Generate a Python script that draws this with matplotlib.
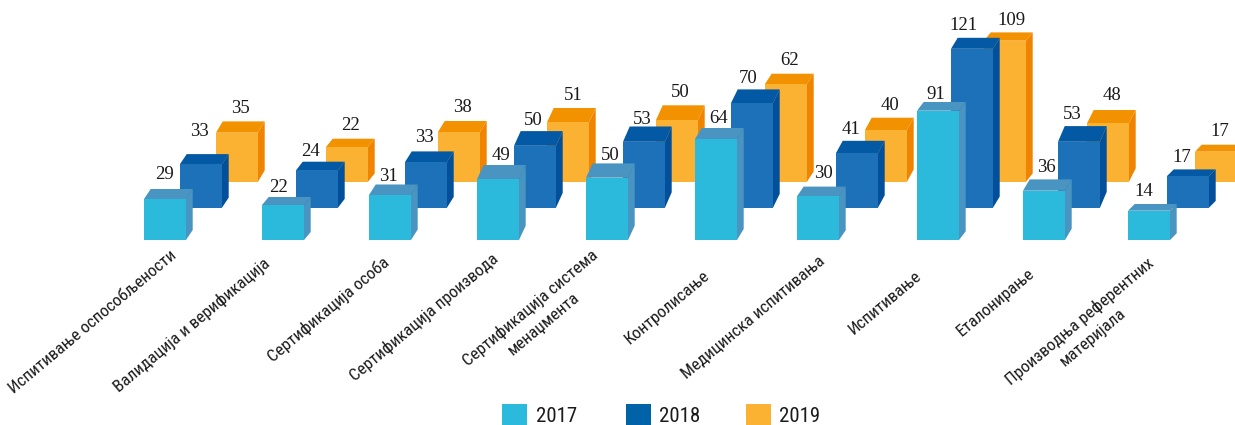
import numpy as np
import matplotlib
matplotlib.use('Agg')
import matplotlib.pyplot as plt
from matplotlib.patches import Polygon, Rectangle

categories = ['Испитивање оспособљености', 'Валидација и верификација', 'Сертификација особа',
              'Сертификација производа', 'Сертификација система\nменаџмента', 'Контролисање',
              'Медицинска испитивања', 'Испитивање', 'Еталонирање',
              'Производња референтних\nматеријала']
years = ['2017', '2018', '2019']

# printed values
values_2017 = [29, 22, 31, 49, 50, 64, 30, 91, 36, 14]
values_2018 = [33, 24, 33, 50, 53, 70, 41, 121, 53, 17]
values_2019 = [35, 22, 38, 51, 50, 62, 40, 109, 48, 17]

# drawn bar heights, the picture is not to scale with the printed values
height_2017 = [41, 35, 45, 60.7, 62.3, 101, 43.7, 129.3, 49.3, 29.3]
height_2018 = [43.5, 37.2, 45.5, 61.8, 65.8, 104.5, 54.5, 158.8, 65.8, 31.5]
height_2019 = [49, 34.7, 49.7, 59.4, 61.7, 97.7, 51.7, 141, 58.4, 30]

# layout in pixels
left_2017 = [144, 262, 369, 477, 586, 695, 797, 917, 1023, 1128]
left_2018 = [180, 296, 405, 514, 623, 731, 836, 951, 1058, 1167]
left_2019 = [216, 326, 438, 547, 656, 765, 865, 984, 1087, 1195]
depth_2017 = [10, 8, 10.5, 14.3, 14.3, 11, 9.7, 8.7, 11.3, 6.7]
depth_2018 = [10, 8.7, 10.7, 14.7, 15.3, 13.7, 12.3, 11, 15.7, 6.7]
depth_2019 = [11.3, 8.3, 11, 14.3, 14.7, 10.3, 12.3, 8.3, 13.3, 7]
label_x_2017 = [164, 279, 388, 501, 610, 719, 823, 936, 1046, 1144]
label_y_2017 = [174, 187, 176, 155, 155, 118, 173, 94, 167, 191]
label_x_2018 = [199, 310, 424, 533, 642, 748, 851, 963, 1072, 1182]
label_y_2018 = [131, 151, 137, 120, 119, 78, 130, 25, 114, 158]
label_x_2019 = [240, 350, 462, 573, 680, 790, 890, 1011, 1112, 1220]
label_y_2019 = [108, 125, 107, 95, 92, 60, 105, 20, 95, 131]
cat_x = [93, 192, 329, 424, 537, 667, 753, 885, 996, 1086]
cat_y = [322, 325, 310, 317, 316, 307, 317, 303, 302, 329]

bar_w = 42
dx = 6.7
narrow = 'Roboto Condensed'

fig = plt.figure(figsize=(12.35, 4.25), dpi=100)
ax = fig.add_axes([0, 0, 1, 1])
ax.set_xlim(0, 1235)
ax.set_ylim(425, 0)
ax.axis('off')


def draw_series(left, height, depth, values, lx, ly, base, front, top, side, z):
    ax.bar(left, -np.array(height), width=bar_w, bottom=base, align='edge', color=front, zorder=z + 0.2)
    for x, h, d in zip(left, height, depth):
        t = base - h
        r = x + bar_w
        ax.add_patch(Polygon([(x, t), (r, t), (r + dx, t - d), (x + dx, t - d)], color=top, lw=0, zorder=z + 0.1))
        ax.add_patch(Polygon([(r, t), (r + dx, t - d), (r + dx, base - d), (r, base)], color=side, lw=0, zorder=z))
    for v, a, b in zip(values, lx, ly):
        ax.text(a, b, str(v), ha='center', va='center', fontsize=13.5, color='#1a1a1a',
                family='Liberation Serif', zorder=10)


draw_series(left_2019, height_2019, depth_2019, values_2019, label_x_2019, label_y_2019, 181.7,
            '#FBB131', '#F39200', '#F08300', 1)
draw_series(left_2018, height_2018, depth_2018, values_2018, label_x_2018, label_y_2018, 207.6,
            '#1D71B8', '#0359A3', '#024F9C', 2)
draw_series(left_2017, height_2017, depth_2017, values_2017, label_x_2017, label_y_2017, 240,
            '#2BBADC', '#4A94C1', '#4A94C1', 3)

for name, a, b in zip(categories, cat_x, cat_y):
    ax.text(a, b, name, rotation=40, ha='center', va='center', multialignment='center',
            fontsize=12.3, family=narrow, color='#1a1a1a', linespacing=1.4)

legend_colors = ['#2BBADC', '#0063A8', '#FBB131']
legend_box = [502, 626, 746]
legend_text = [557, 680, 800]
for y, c, a, b in zip(years, legend_colors, legend_box, legend_text):
    ax.add_patch(Rectangle((a, 404), 25, 21, color=c, lw=0))
    ax.text(b, 416.5, y, ha='center', va='center', fontsize=15, family=narrow, color='#1a1a1a')

fig.savefig('out.png', dpi=100)
